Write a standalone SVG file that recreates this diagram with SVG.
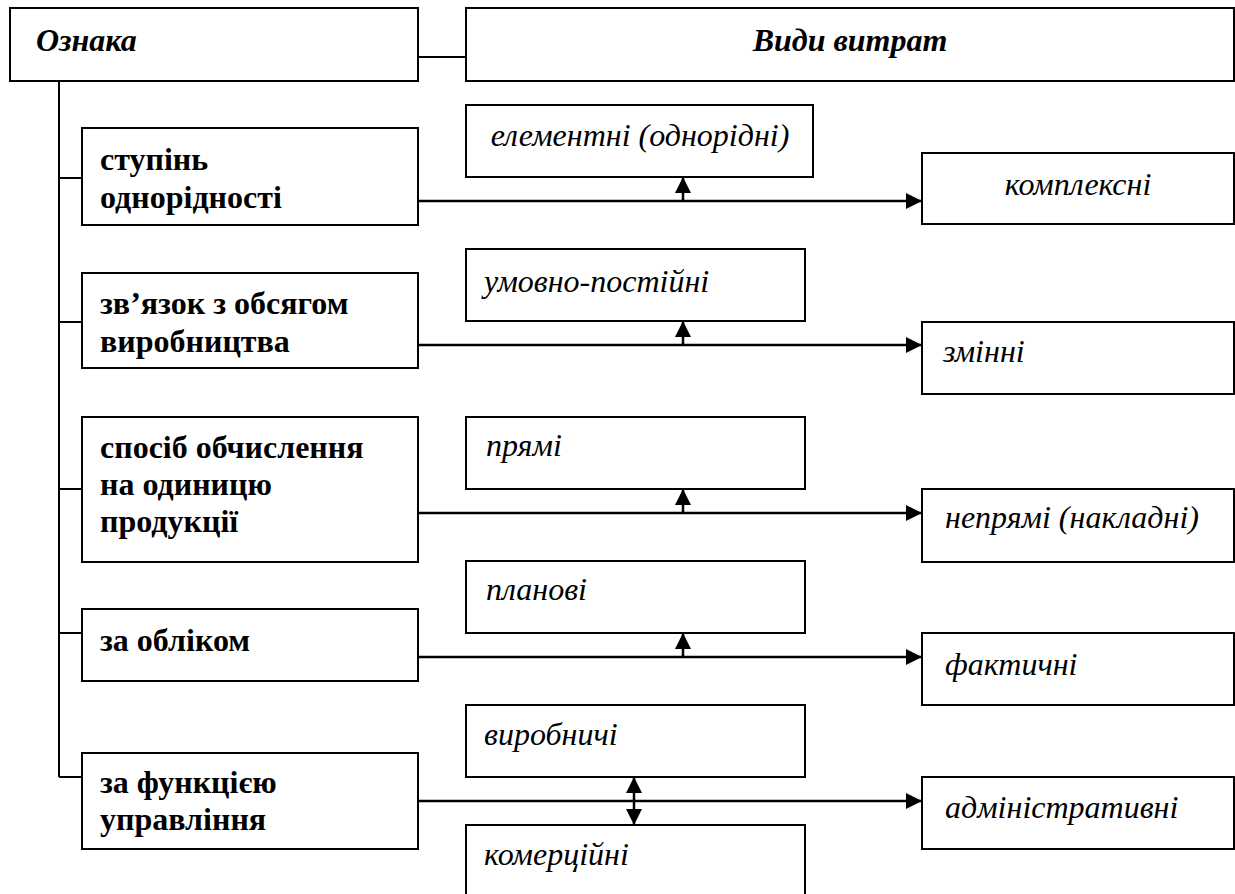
<svg xmlns="http://www.w3.org/2000/svg" width="1235" height="894" viewBox="0 0 1235 894">
<defs>
<marker id="ah" markerUnits="userSpaceOnUse" markerWidth="16" markerHeight="16" refX="14" refY="7" orient="auto-start-reverse" viewBox="0 0 14 14">
<path d="M0,0 L14,7 L0,14 z" fill="#000"/>
</marker>
</defs>
<g id="connectors" fill="none" stroke="#000" stroke-width="2">
<line x1="418" y1="57" x2="466" y2="57"/>
<line x1="59" y1="81" x2="59" y2="777"/>
<line x1="59" y1="178" x2="82" y2="178"/>
<line x1="59" y1="322" x2="82" y2="322"/>
<line x1="59" y1="489" x2="82" y2="489"/>
<line x1="59" y1="633" x2="82" y2="633"/>
<line x1="59" y1="777" x2="82" y2="777"/>
<line stroke-width="2.5" x1="418" y1="201" x2="922" y2="201" marker-end="url(#ah)"/>
<line stroke-width="2.5" x1="418" y1="345" x2="922" y2="345" marker-end="url(#ah)"/>
<line stroke-width="2.5" x1="418" y1="513" x2="922" y2="513" marker-end="url(#ah)"/>
<line stroke-width="2.5" x1="418" y1="657" x2="922" y2="657" marker-end="url(#ah)"/>
<line stroke-width="2.5" x1="418" y1="801" x2="922" y2="801" marker-end="url(#ah)"/>
<line stroke-width="2.5" x1="683" y1="201" x2="683" y2="177" marker-end="url(#ah)"/>
<line stroke-width="2.5" x1="683" y1="345" x2="683" y2="321" marker-end="url(#ah)"/>
<line stroke-width="2.5" x1="683" y1="513" x2="683" y2="489" marker-end="url(#ah)"/>
<line stroke-width="2.5" x1="683" y1="657" x2="683" y2="633" marker-end="url(#ah)"/>
<line stroke-width="2.5" x1="634" y1="777" x2="634" y2="825" marker-start="url(#ah)" marker-end="url(#ah)"/>
</g>
<g id="oznaka"><rect x="10" y="8" width="408" height="73" fill="#fff" stroke="#000" stroke-width="2"/><text font-family="Liberation Serif" font-size="32" font-weight="bold" font-style="italic" x="36" y="51">Ознака</text></g>
<g id="vydy"><rect x="466" y="8" width="768" height="73" fill="#fff" stroke="#000" stroke-width="2"/><text font-family="Liberation Serif" font-size="32" font-weight="bold" font-style="italic" x="850" y="51" text-anchor="middle">Види витрат</text></g>
<g id="stupin"><rect x="82" y="128" width="336" height="97" fill="#fff" stroke="#000" stroke-width="2"/><text font-family="Liberation Serif" font-size="32" font-weight="bold" x="100" y="170">ступінь</text><text font-family="Liberation Serif" font-size="32" font-weight="bold" x="100" y="208">однорідності</text></g>
<g id="elementni"><rect x="466" y="105" width="347" height="72" fill="#fff" stroke="#000" stroke-width="2"/><text font-family="Liberation Serif" font-size="32" font-style="italic" x="640" y="146" text-anchor="middle">елементні (однорідні)</text></g>
<g id="kompleksni"><rect x="922" y="153" width="312" height="71" fill="#fff" stroke="#000" stroke-width="2"/><text font-family="Liberation Serif" font-size="32" font-style="italic" x="1078" y="195" text-anchor="middle">комплексні</text></g>
<g id="zviazok"><rect x="82" y="273" width="336" height="95" fill="#fff" stroke="#000" stroke-width="2"/><text font-family="Liberation Serif" font-size="32" font-weight="bold" x="100" y="314">зв’язок з обсягом</text><text font-family="Liberation Serif" font-size="32" font-weight="bold" x="100" y="352">виробництва</text></g>
<g id="umovno"><rect x="466" y="249" width="339" height="72" fill="#fff" stroke="#000" stroke-width="2"/><text font-family="Liberation Serif" font-size="32" font-style="italic" x="484" y="292">умовно-постійні</text></g>
<g id="zminni"><rect x="922" y="322" width="312" height="72" fill="#fff" stroke="#000" stroke-width="2"/><text font-family="Liberation Serif" font-size="32" font-style="italic" x="943" y="362">змінні</text></g>
<g id="sposib"><rect x="82" y="417" width="336" height="145" fill="#fff" stroke="#000" stroke-width="2"/><text font-family="Liberation Serif" font-size="32" font-weight="bold" x="100" y="458">спосіб обчислення</text><text font-family="Liberation Serif" font-size="32" font-weight="bold" x="100" y="495">на одиницю</text><text font-family="Liberation Serif" font-size="32" font-weight="bold" x="100" y="532">продукції</text></g>
<g id="priami"><rect x="466" y="417" width="339" height="72" fill="#fff" stroke="#000" stroke-width="2"/><text font-family="Liberation Serif" font-size="32" font-style="italic" x="486" y="456">прямі</text></g>
<g id="nepriami"><rect x="922" y="489" width="312" height="73" fill="#fff" stroke="#000" stroke-width="2"/><text font-family="Liberation Serif" font-size="32" font-style="italic" x="945" y="528">непрямі (накладні)</text></g>
<g id="oblik"><rect x="82" y="609" width="336" height="72" fill="#fff" stroke="#000" stroke-width="2"/><text font-family="Liberation Serif" font-size="32" font-weight="bold" x="100" y="651">за обліком</text></g>
<g id="planovi"><rect x="466" y="561" width="339" height="72" fill="#fff" stroke="#000" stroke-width="2"/><text font-family="Liberation Serif" font-size="32" font-style="italic" x="486" y="600">планові</text></g>
<g id="faktychni"><rect x="922" y="633" width="312" height="72" fill="#fff" stroke="#000" stroke-width="2"/><text font-family="Liberation Serif" font-size="32" font-style="italic" x="945" y="675">фактичні</text></g>
<g id="funktsiia"><rect x="82" y="753" width="336" height="96" fill="#fff" stroke="#000" stroke-width="2"/><text font-family="Liberation Serif" font-size="32" font-weight="bold" x="100" y="793">за функцією</text><text font-family="Liberation Serif" font-size="32" font-weight="bold" x="100" y="830">управління</text></g>
<g id="vyrobnychi"><rect x="466" y="705" width="339" height="72" fill="#fff" stroke="#000" stroke-width="2"/><text font-family="Liberation Serif" font-size="32" font-style="italic" x="484" y="745">виробничі</text></g>
<g id="admin"><rect x="922" y="777" width="312" height="72" fill="#fff" stroke="#000" stroke-width="2"/><text font-family="Liberation Serif" font-size="32" font-style="italic" x="945" y="818">адміністративні</text></g>
<g id="komertsiini"><rect x="466" y="825" width="339" height="70" fill="#fff" stroke="#000" stroke-width="2"/><text font-family="Liberation Serif" font-size="32" font-style="italic" x="484" y="865">комерційні</text></g>
</svg>
